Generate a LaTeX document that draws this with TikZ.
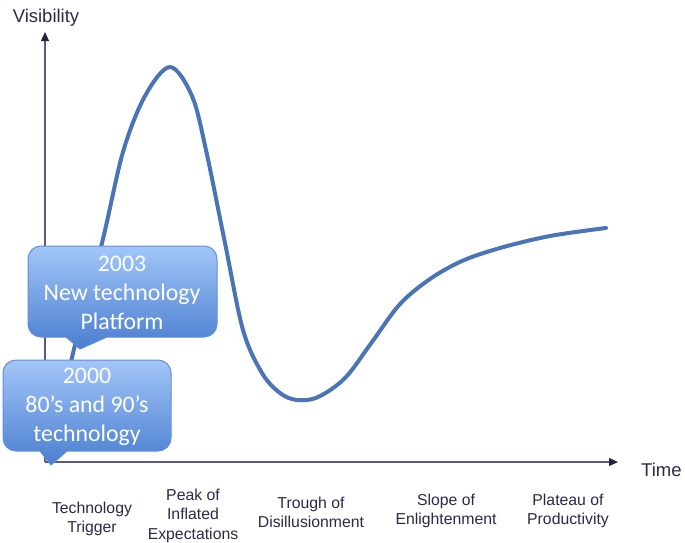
\documentclass[tikz,border=0pt]{standalone}
\usepackage{fontspec}
\setmainfont{Liberation Sans}
\newfontfamily\calfont{Carlito}
\usetikzlibrary{arrows.meta}
\definecolor{axiscol}{HTML}{5A5A82}
\definecolor{tipcol}{HTML}{23234A}
\definecolor{labcol}{HTML}{2A2A48}
\definecolor{curvecol}{HTML}{4A74B6}
\definecolor{boxtop}{HTML}{A2C6F8}
\definecolor{boxbot}{HTML}{4A7ED0}
\definecolor{boxedge}{HTML}{5E8ED6}
\tikzset{
  axisline/.style={draw=axiscol, line width=1.1pt, -{Triangle[length=9pt,width=8pt,fill=tipcol,color=tipcol]}},
  axislabel/.style={text=labcol, font=\fontsize{18.5}{21}\selectfont, inner sep=0pt},
  phase/.style={text=labcol, font=\fontsize{15.8}{19.2}\selectfont, align=center, inner sep=0pt, anchor=north},
  hype/.style={draw=curvecol, line width=4pt, line cap=round},
  callout/.style={top color=boxtop, bottom color=boxbot, draw=boxedge, line width=1pt},
  callouttext/.style={text=white, font=\calfont\fontsize{23.8}{29}\selectfont, align=center, inner sep=0pt}
}
\begin{document}
\begin{tikzpicture}[x=1pt,y=-1pt]
\useasboundingbox (0,0) rectangle (685,542);
% axes
\coordinate (origin) at (45,462);
\coordinate (ytop) at (45,32);
\coordinate (xend) at (618,462);
\draw[axisline] (origin) -- (ytop);
\draw[axisline] (origin) -- (xend);
\node[axislabel] (vis) at (46,18) {Visibility};
\node[axislabel, anchor=west] (time) at (641,470) {Time};
% curve
\draw[hype] plot[smooth, tension=0.55] coordinates {
 (49,460) (75,345) (102,243) (123,152) (145,96) (170,67) (192,96)
 (206,150) (225,243) (243,330) (262,373) (280,393) (297,400) (318,397)
 (345,378) (372,342) (400,304) (430,279) (462,261) (500,248) (550,236) (606,228)};
% phase labels
\node[phase] (trig) at (92,502) {Technology\\Trigger};
\node[phase] (peak) at (193,489) {Peak of\\Inflated\\Expectations};
\node[phase] (trough) at (311,497) {Trough of\\Disillusionment};
\node[phase] (slope) at (446,494) {Slope of\\Enlightenment};
\node[phase] (plat) at (568,494) {Plateau of\\Productivity};
% callout 2003
\path[callout] (41,246) -- (204,246) .. controls (211.2,246) and (217,251.8) .. (217,259)
  -- (217,324) .. controls (217,331.2) and (211.2,337) .. (204,337)
  -- (107,337) -- (80,349) -- (66,337) -- (41,337)
  .. controls (33.8,337) and (28,331.2) .. (28,324)
  -- (28,259) .. controls (28,251.8) and (33.8,246) .. (41,246) -- cycle;
\node[callouttext] (c2003) at (122,293) {2003\\New technology\\Platform};
% callout 2000
\path[callout] (16,360) -- (158,360) .. controls (165.2,360) and (171,365.8) .. (171,373)
  -- (171,438) .. controls (171,445.2) and (165.2,451) .. (158,451)
  -- (67,451) -- (51,465) -- (40,451) -- (16,451)
  .. controls (8.8,451) and (3,445.2) .. (3,438)
  -- (3,373) .. controls (3,365.8) and (8.8,360) .. (16,360) -- cycle;
\node[callouttext] (c2000) at (87,407) {2000\\80’s and 90’s\\technology};
\end{tikzpicture}
\end{document}
